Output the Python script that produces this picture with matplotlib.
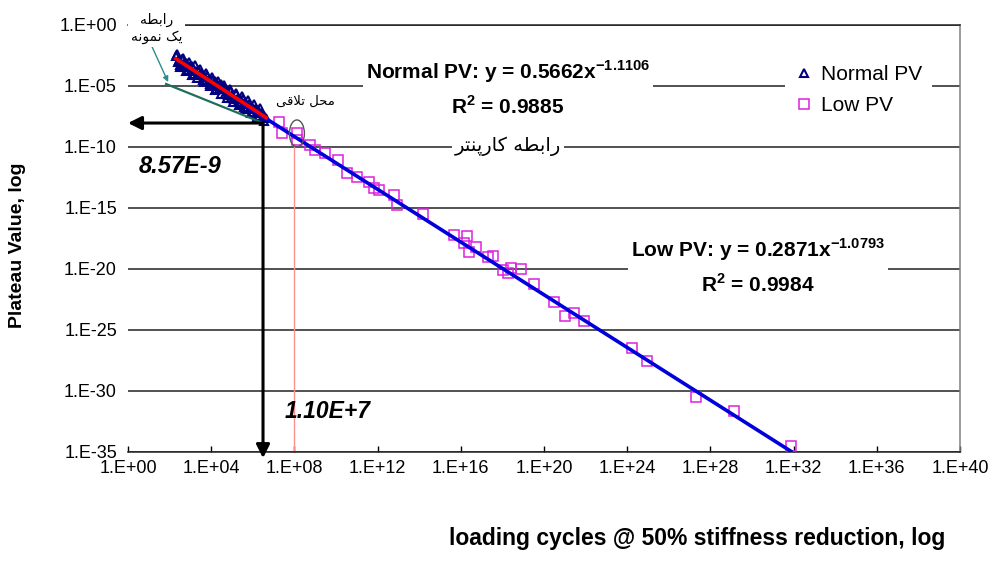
"""
Plateau Value vs loading cycles (log-log), Normal PV and Low PV with power-law fits.
"""

import matplotlib

matplotlib.use("Agg")
import matplotlib.pyplot as plt  # noqa: E402
import numpy as np  # noqa: E402
from matplotlib.patches import Ellipse  # noqa: E402
from matplotlib.ticker import NullLocator  # noqa: E402
from matplotlib.transforms import ScaledTranslation  # noqa: E402

plt.rcParams["font.family"] = ["Liberation Sans", "DejaVu Sans"]
plt.rcParams["mathtext.fontset"] = "custom"
plt.rcParams["mathtext.rm"] = "Liberation Sans"
plt.rcParams["mathtext.bf"] = "Liberation Sans:bold"

# --- data (log10 values) ---
normal_log_n = [
    2.30, 2.38, 2.45, 2.52, 2.60, 2.66, 2.74, 2.80, 2.88, 2.95, 3.02, 3.10,
    3.17, 3.24, 3.30, 3.38, 3.45, 3.52, 3.60, 3.66, 3.74, 3.81, 3.88, 3.95,
    4.02, 4.10, 4.16, 4.24, 4.31, 4.38, 4.45, 4.52, 4.60, 4.66, 4.74, 4.81,
    4.88, 4.95, 5.02, 5.10, 5.17, 5.24, 5.30, 5.38, 5.45, 5.52, 5.60, 5.67,
    5.74, 5.81, 5.88, 5.96, 6.03, 6.10, 6.18, 6.25, 6.32, 6.40, 6.48, 6.56,
    6.65,
    2.34, 2.49, 2.63, 2.77, 2.92, 3.06, 3.20, 3.34, 3.48, 3.63, 3.77, 3.92,
    4.06, 4.20, 4.35, 4.49, 4.63, 4.77, 4.92, 5.06, 5.20, 5.34, 5.49, 5.63,
    5.78, 5.92, 6.06, 6.21, 6.36, 6.52,
]
normal_log_pv = [
    -2.55, -3.09, -2.87, -3.35, -2.84, -3.20, -3.44, -3.16, -3.70, -3.37, -3.70, -3.39,
    -4.07, -3.80, -4.11, -3.75, -4.13, -3.96, -4.55, -4.21, -4.60, -4.18, -4.56, -4.88,
    -4.56, -4.90, -4.62, -5.26, -4.98, -5.31, -4.89, -5.32, -5.16, -5.67, -5.41, -5.74,
    -5.42, -6.04, -5.77, -6.11, -5.69, -6.07, -6.38, -6.07, -6.40, -6.13, -6.77, -6.49,
    -6.82, -6.50, -6.83, -6.72, -7.19, -6.92, -7.26, -6.99, -7.47, -7.26, -7.54, -7.48,
    -7.68,
    -2.40, -3.46, -2.72, -3.77, -3.04, -4.10, -3.35, -4.41, -3.66, -4.73, -3.98, -5.05,
    -4.31, -5.36, -4.63, -5.68, -4.94, -6.00, -5.26, -6.32, -5.57, -6.63, -5.89, -6.95,
    -6.22, -7.27, -6.53, -7.59, -6.86, -7.94,
]
low_log_n = [
    7.25, 7.41, 8.13, 8.13, 8.77, 9.01, 9.49, 10.12, 10.54, 11.02, 11.57, 11.81,
    12.05, 12.77, 12.95, 14.20, 15.68, 16.32, 16.16, 16.72, 16.40, 17.29, 17.53,
    18.01, 18.25, 18.41, 18.89, 19.53, 20.50, 21.01, 21.46, 21.94, 24.23, 24.96,
    27.33, 29.14, 31.87,
]
low_log_pv = [
    -7.95, -8.90, -8.90, -9.45, -9.86, -10.27, -10.52, -11.09, -12.15, -12.45, -12.86, -13.38,
    -13.54, -13.96, -14.77, -15.51, -17.23, -17.31, -17.91, -18.18, -18.59, -19.05, -18.94,
    -20.09, -20.31, -19.95, -20.03, -21.24, -22.68, -23.85, -23.63, -24.24, -26.50, -27.54,
    -30.51, -31.63, -34.47,
]

normal_coef, normal_exp, normal_r2 = 0.5662, -1.1106, 0.9885
low_coef, low_exp, low_r2 = 0.2871, -1.0793, 0.9984
low_fit_start = 4e5

x_tick_exps = list(range(0, 41, 4))
y_tick_exps = list(range(0, -36, -5))

# annotation points
meet_n, meet_pv = 3.1e6, 8.57e-9
meet_labels = ("8.57E-9", "1.10E+7")
cross_n = 1e8
single_start = (10 ** 1.83, 10 ** -4.87)

# persian labels, shaped and in visual order
lbl_single = "\uFEEA\uFEC4\uFE91\uFE8D\uFEAD\n\uFEEA\uFEE7\uFEEE\uFEE4\uFEE7 \uFB8F\uFBFE"
lbl_meet = "\uFBFD\uFED7\uFEFC\uFE97 \uFEDE\uFEA4\uFEE3"
lbl_carpenter = "\uFEAE\uFE98\uFEE8\uFB58\uFEAD\uFE8E\uFB90 \uFEEA\uFEC4\uFE91\uFE8D\uFEAD"

normal_n = 10.0 ** np.array(normal_log_n)
normal_pv = 10.0 ** np.array(normal_log_pv)
low_n = 10.0 ** np.array(low_log_n)
low_pv = 10.0 ** np.array(low_log_pv)

fig = plt.figure(figsize=(9.95, 5.74), dpi=100)
ax = fig.add_axes([128 / 995, 1 - 452 / 574, (960 - 128) / 995, (452 - 24.5) / 574])
ax.set_xscale("log")
ax.set_yscale("log")

ax.plot(normal_n, normal_pv, ls="none", marker="^", mfc="none", mec="#000080",
        ms=6, mew=1.5, label="Normal PV", zorder=3)
ax.plot(low_n, low_pv, ls="none", marker="s", mfc="none", mec="#DD22DD",
        ms=6.5, mew=1.1, label="Low PV", zorder=3)

# trend lines
xl = np.logspace(np.log10(low_fit_start), np.log10(low_n.max()), 50)
ax.plot(xl, low_coef * xl ** low_exp, color="#0000DD", lw=2.6, zorder=4)
xn = np.logspace(np.log10(normal_n.min()), np.log10(normal_n.max()), 50)
ax.plot(xn, normal_coef * xn ** normal_exp, color="#FF0000", lw=2.6, zorder=4)

# single-sample relation and guide lines
ax.plot([single_start[0], meet_n], [single_start[1], meet_pv], color="#1F6E5C", lw=1.6, zorder=4)
ax.plot([cross_n, cross_n], [1e-35, 10 ** -9.8], color="#FF9090", lw=1.0, zorder=2)
ax.annotate("", xy=(1, meet_pv), xytext=(meet_n, meet_pv),
            arrowprops=dict(arrowstyle="-|>", color="black", lw=2.2, mutation_scale=20,
                            shrinkA=0, shrinkB=0), zorder=5)
ax.annotate("", xy=(meet_n, 10 ** -35.5), xytext=(meet_n, meet_pv), annotation_clip=False,
            arrowprops=dict(arrowstyle="-|>", color="black", lw=2.2, mutation_scale=20,
                            shrinkA=0, shrinkB=0), zorder=5)
ax.annotate("", xy=(10 ** 1.93, 10 ** -4.71), xytext=(10 ** 1.16, 10 ** -1.84),
            annotation_clip=False,
            arrowprops=dict(arrowstyle="-|>", color="#2E8B8B", lw=1.0, mutation_scale=8,
                            shrinkA=0, shrinkB=0), zorder=5)

# intersection ellipse
ell_trans = fig.dpi_scale_trans + ScaledTranslation(10 ** 8.12, 10 ** -8.92, ax.transData)
ax.add_artist(Ellipse((0, 0), 0.15, 0.27, transform=ell_trans, fill=False,
                      ec="#555555", lw=1.0, zorder=6))

white = dict(boxstyle="square,pad=0.2", fc="white", ec="none")
ax.text(10 ** 1.37, 10 ** -0.33, lbl_single, family="DejaVu Sans", fontsize=10,
        ha="center", va="center", linespacing=1.3, bbox=white, clip_on=False, zorder=7)
ax.text(10 ** 8.53, 10 ** -6.26, lbl_meet, family="DejaVu Sans", fontsize=9.5,
        ha="center", va="center", zorder=7)
ax.text(10 ** 18.27, 10 ** -9.94, lbl_carpenter, family="DejaVu Sans", fontsize=14,
        ha="center", va="center", bbox=dict(boxstyle="square,pad=0.15", fc="white", ec="none"),
        zorder=7)

ax.text(10 ** 18.27, 10 ** -5.2,
        f"Normal PV: y = {normal_coef}x$^{{\\mathbf{{{normal_exp}}}}}$\n"
        f"R$^{{\\mathbf{{2}}}}$ = {normal_r2}",
        fontsize=15, fontweight="bold", ha="center", va="center", linespacing=1.55,
        bbox=dict(boxstyle="square,pad=0.15", fc="white", ec="none"), zorder=7)
ax.text(10 ** 30.27, 10 ** -19.8,
        f"Low PV: y = {low_coef}x$^{{\\mathbf{{{low_exp}}}}}$\n"
        f"R$^{{\\mathbf{{2}}}}$ = {low_r2}",
        fontsize=15, fontweight="bold", ha="center", va="center", linespacing=1.55,
        bbox=dict(boxstyle="square,pad=0.15", fc="white", ec="none"), zorder=7)

ax.text(10 ** 2.51, 10 ** -11.6, meet_labels[0], fontsize=17, fontweight="bold",
        fontstyle="italic", ha="center", va="center",
        bbox=dict(boxstyle="square,pad=0.3", fc="white", ec="none"), zorder=7)
ax.text(10 ** 9.59, 10 ** -31.7, meet_labels[1], fontsize=16.5, fontweight="bold",
        fontstyle="italic", ha="center", va="center", zorder=7)

# axes
ax.set_xlim(1, 1e40)
ax.set_ylim(1e-35, 1)
ax.set_xticks([10.0 ** e for e in x_tick_exps], labels=[f"1.E{e:+03d}" for e in x_tick_exps])
ax.set_yticks([10.0 ** e for e in y_tick_exps], labels=[f"1.E{e:+03d}" for e in y_tick_exps])
ax.xaxis.set_minor_locator(NullLocator())
ax.yaxis.set_minor_locator(NullLocator())
ax.tick_params(axis="x", direction="in", length=4, width=1, pad=6, labelsize=13)
ax.tick_params(axis="y", length=0, pad=8, labelsize=13)
ax.yaxis.grid(True, color="#222222", lw=1.1)
ax.set_axisbelow(True)
ax.spines["left"].set_visible(False)
ax.spines["top"].set_color("#222222")
ax.spines["right"].set_color("#808080")
ax.spines["bottom"].set_color("#222222")
for s in ("top", "right", "bottom"):
    ax.spines[s].set_linewidth(1.1)

ax.legend(loc="upper left", bbox_to_anchor=(0.79, 0.93), frameon=True, fancybox=False,
          edgecolor="none", facecolor="white", framealpha=1, fontsize=15,
          handlelength=0.8, handletextpad=0.4, borderpad=0.5, labelspacing=0.6,
          borderaxespad=0)

fig.text(18 / 995, 1 - 245 / 574, "Plateau Value, log", rotation=90, fontsize=14,
         fontweight="bold", ha="center", va="center")
fig.text(697 / 995, 1 - 538 / 574, "loading cycles @ 50% stiffness reduction, log",
         fontsize=16.5, fontweight="bold", ha="center", va="center")

fig.savefig("out.png", dpi=100)
